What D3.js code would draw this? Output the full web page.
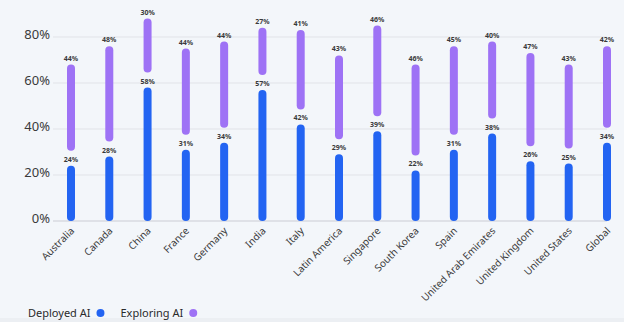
<!DOCTYPE html>
<html><head><meta charset="utf-8">
<script src="https://cdn.jsdelivr.net/npm/d3@7"></script>
<style>
html,body{margin:0;padding:0;background:#f3f6fa;}
svg{display:block;}
</style></head>
<body>
<svg id="chart" width="624" height="322"></svg>
<script>
const categories = ["Australia","Canada","China","France","Germany","India","Italy","Latin America","Singapore","South Korea","Spain","United Arab Emirates","United Kingdom","United States","Global"];
const deployedAI = [24,28,58,31,34,57,42,29,39,22,31,38,26,25,34];
const exploringAI = [44,48,30,44,44,27,41,43,46,46,45,40,47,43,42];
const yTicks = [0,20,40,60,80];
const seriesNames = ["Deployed AI","Exploring AI"];
const colors = ["#2364f2","#9e72f5"];

const svg = d3.select("#chart");
svg.append("rect").attr("x",0).attr("y",318).attr("width",624).attr("height",4).attr("fill","#eceff3");

const x = d3.scalePoint().domain(categories).range([71,607]);
const y = d3.scaleLinear().domain([0,80]).range([221,37]);

// grid
const grid = svg.append("g");
grid.selectAll("line").data(yTicks).join("line")
  .attr("x1",53).attr("x2",607)
  .attr("y1",d=>y(d)).attr("y2",d=>y(d))
  .attr("stroke",d=>d===0?"#d8dae0":"#e1e3e8").attr("stroke-width",d=>d===0?1.5:1);

const yAxis = d3.axisLeft(y).tickValues(yTicks).tickFormat(d=>d+"%").tickSize(0).tickPadding(0);
const ya = svg.append("g").attr("transform","translate(50,-3)").call(yAxis);
ya.select(".domain").remove();
ya.selectAll("text").attr("font-family","'Noto Sans', sans-serif").attr("font-size",13).attr("fill","#3a3a3a");

const bw = 8, gap = 15;
const g = svg.append("g");
categories.forEach((c,i)=>{
  const cx = x(c);
  const d0 = deployedAI[i], d1 = exploringAI[i];
  g.append("rect").attr("x",cx-bw/2).attr("width",bw)
    .attr("y",y(d0)).attr("height",y(0)-y(d0)).attr("rx",bw/2).attr("fill",colors[0]);
  const top = y(d0+d1), bot = y(d0)-gap;
  g.append("rect").attr("x",cx-bw/2).attr("width",bw)
    .attr("y",top).attr("height",Math.max(bot-top,bw)).attr("rx",bw/2).attr("fill",colors[1]);
  g.append("text").attr("x",cx).attr("y",y(d0)-4).attr("text-anchor","middle")
    .attr("font-family","'Noto Sans', sans-serif").attr("font-size",7).attr("font-weight","bold")
    .attr("fill","#3a3a3a").text(d0+"%");
  g.append("text").attr("x",cx).attr("y",top-4).attr("text-anchor","middle")
    .attr("font-family","'Noto Sans', sans-serif").attr("font-size",7).attr("font-weight","bold")
    .attr("fill","#3a3a3a").text(d1+"%");
});

const xa = svg.append("g").attr("transform","translate(1,"+(y(0)+8)+")")
  .call(d3.axisBottom(x).tickSize(0).tickPadding(0));
xa.select(".domain").remove();
xa.selectAll("text")
  .attr("font-family","'Noto Sans', sans-serif").attr("font-size",10).attr("fill","#3a3a3a")
  .attr("text-anchor","end").attr("dy","0.35em")
  .attr("transform","rotate(-45)").attr("x",0).attr("y",0);

const lg = svg.append("g").attr("transform","translate(28,313)");
let lx = 0;
seriesNames.forEach((s,i)=>{
  const t = lg.append("text").attr("x",lx).attr("y",0).attr("dy","0.35em")
    .attr("font-family","'Noto Sans', sans-serif").attr("font-size",11).attr("fill","#2a2a2a").text(s);
  const w = t.node().getComputedTextLength();
  lg.append("circle").attr("cx",lx+w+10).attr("cy",0).attr("r",4).attr("fill",colors[i]);
  lx += w + 30;
});
</script>
</body></html>
